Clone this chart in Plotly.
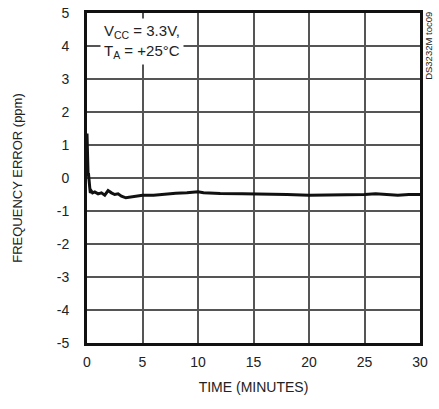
import plotly.graph_objects as go

time_min = [0, 0.03, 0.06, 0.1, 0.13, 0.17, 0.2, 0.25, 0.3, 0.4, 0.5, 0.7, 1.0, 1.3, 1.6, 1.9, 2.2, 2.5, 2.8, 3.1, 3.5, 4.0, 4.5, 5.0, 6.0, 7.0, 8.0, 9.0, 10.0, 10.5, 11.0, 12.0, 14.0, 16.0, 18.0, 20.0, 22.0, 24.0, 25.0, 26.0, 27.0, 28.0, 29.0, 30.0]
freq_err = [1.35, 0.6, 0.1, 0.05, 0.15, -0.1, 0.0, -0.3, -0.45, -0.4, -0.45, -0.42, -0.48, -0.45, -0.52, -0.38, -0.45, -0.5, -0.48, -0.55, -0.6, -0.58, -0.55, -0.52, -0.52, -0.48, -0.46, -0.45, -0.42, -0.45, -0.46, -0.47, -0.48, -0.48, -0.5, -0.52, -0.52, -0.52, -0.5, -0.48, -0.5, -0.52, -0.5, -0.5]

x_ticks = [0, 5, 10, 15, 20, 25, 30]
x_labels = ["0", "5", "10", "15", "20", "25", "30"]
y_ticks = [-5, -4, -3, -2, -1, 0, 1, 2, 3, 4, 5]
y_labels = ["-5", "-4", "-3", "-2", "-1", "0", "1", "2", "3", "4", "5"]

FONT = "Liberation Sans Narrow, Arial Narrow, Liberation Sans, Arial, sans-serif"

fig = go.Figure()
fig.add_trace(go.Scatter(x=time_min, y=freq_err, mode="lines",
                         line=dict(color="#111111", width=3), showlegend=False))

fig.update_layout(
    width=439, height=409,
    margin=dict(l=87, r=19, t=13, b=66),
    paper_bgcolor="white", plot_bgcolor="white",
    font=dict(family=FONT, size=14, color="#222222"),
    xaxis=dict(range=[0, 30], tickvals=x_ticks, ticktext=x_labels, showgrid=True,
               gridcolor="#555555", gridwidth=1.5, automargin=False,
               zeroline=False, showline=True, linecolor="#111111", linewidth=3, mirror=True,
               ticks="", ticklabelstandoff=4,
               title=dict(text="TIME (MINUTES)", font=dict(size=14), standoff=14)),
    yaxis=dict(range=[-5, 5], tickvals=y_ticks, ticktext=y_labels, showgrid=True,
               gridcolor="#555555", gridwidth=1.5, automargin=False,
               zeroline=False, showline=True, linecolor="#111111", linewidth=3, mirror=True,
               ticks="", ticklabelstandoff=12,
               title=dict(text="FREQUENCY ERROR (ppm)", font=dict(size=13), standoff=32)),
)

fig.add_annotation(xref="paper", yref="paper", x=0.04, y=0.985, xanchor="left", yanchor="top",
                   text="V<sub>CC</sub> = 3.3V,<br>T<sub>A</sub> = +25°C", showarrow=False, align="left",
                   bgcolor="white", font=dict(size=15, color="#222222"), borderpad=3)
fig.add_annotation(xref="paper", yref="paper", x=1.005, y=1.01, xanchor="left", yanchor="top",
                   text="DS3232M toc09", textangle=-90, showarrow=False,
                   font=dict(size=9.5, color="#222222"))

fig.write_html("out.html", config={"displayModeBar": False},
               post_script="document.body.style.margin='0';")
